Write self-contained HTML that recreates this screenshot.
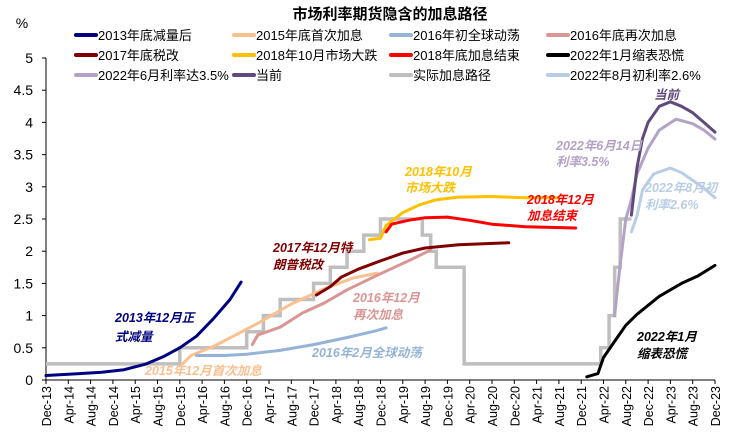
<!DOCTYPE html>
<html><head><meta charset="utf-8">
<style>
html,body{margin:0;padding:0;background:#fff;}
svg{display:block;font-family:"Liberation Sans","Noto Sans CJK SC",sans-serif;}
</style></head>
<body>
<svg id="chart" width="738" height="441" viewBox="0 0 738 441">
<text x="390" y="19" text-anchor="middle" font-size="15" font-weight="bold" fill="#000">市场利率期货隐含的加息路径</text>
<text x="22" y="28" text-anchor="middle" font-size="14" fill="#000">%</text>
<g id="legend"></g>
<g id="axes"></g>
<g id="series"></g>
<g id="notes"></g>
</svg>
<script>
// x values are months since Dec-13
const xLabels=["Dec-13","Apr-14","Aug-14","Dec-14","Apr-15","Aug-15","Dec-15","Apr-16","Aug-16","Dec-16","Apr-17","Aug-17","Dec-17","Apr-18","Aug-18","Dec-18","Apr-19","Aug-19","Dec-19","Apr-20","Aug-20","Dec-20","Apr-21","Aug-21","Dec-21","Apr-22","Aug-22","Dec-22","Apr-23","Aug-23","Dec-23"];
const yTicks=[0,0.5,1,1.5,2,2.5,3,3.5,4,4.5,5];
const yTickLabels=["0","0.5","1","1.5","2","2.5","3","3.5","4","4.5","5"];
const actualMonths=[0,24,36,39,42,48,51,54,57,60,67.5,69,70,75,99.5,101,102,103,105];
const actualValues=[0.25,0.5,0.75,1,1.25,1.5,1.75,2,2.25,2.5,2.25,2,1.75,0.25,0.5,1,1.75,2.5,2.5];
const s2013M=[0,6,10,14,18,21,24,27,30,33,35];
const s2013V=[0.07,0.1,0.12,0.16,0.25,0.36,0.5,0.68,0.95,1.25,1.52];
const s2015M=[24.5,26,30,34,38,44,50,55,59.4];
const s2015V=[0.25,0.38,0.52,0.7,0.88,1.18,1.42,1.58,1.66];
const s2016aM=[27,32,36,42,48,54,59,61];
const s2016aV=[0.38,0.38,0.4,0.46,0.55,0.66,0.76,0.81];
const s2016bM=[37,38,42,46,50,54,60,65,69];
const s2016bV=[0.55,0.7,0.82,1.04,1.2,1.4,1.65,1.85,2.02];
const s2017M=[48.5,51,53,56,60,64,68,74,83];
const s2017V=[1.32,1.45,1.6,1.72,1.85,1.97,2.05,2.1,2.13];
const s2018aM=[58,60,61,64,67,70,74,80,86,92];
const s2018aV=[2.18,2.2,2.4,2.6,2.72,2.8,2.84,2.85,2.83,2.83];
const s2018bM=[61,62,65,68,72,76,80,86,95];
const s2018bV=[2.3,2.42,2.48,2.52,2.53,2.48,2.42,2.38,2.36];
const s2022aM=[97,99,100,102,104,106,110,114,117,120];
const s2022aV=[0.05,0.1,0.35,0.6,0.85,1.02,1.3,1.5,1.62,1.78];
const s2022bM=[102,103,104,105,106,108,110,113,116,118,120];
const s2022bV=[1.0,1.8,2.5,2.8,3.2,3.6,3.88,4.05,3.98,3.88,3.74];
const sCurM=[105,106,107,108,110,112,114,116,118,120];
const sCurV=[2.56,3.3,3.75,4.0,4.25,4.32,4.25,4.15,4.0,3.85];
const s2022cM=[105,106,107,109,112,114,116,118,120];
const s2022cV=[2.3,2.55,2.95,3.2,3.29,3.22,3.1,2.98,2.83];

const NS="http://www.w3.org/2000/svg";
const X0=46,X1=715,Y0=380,Y5=58;
const xs=m=>X0+m*(X1-X0)/120;
const ys=v=>Y0-v*(Y0-Y5)/5;
function mk(tag,attrs,parent){const e=document.createElementNS(NS,tag);for(const k in attrs)e.setAttribute(k,attrs[k]);parent.appendChild(e);return e;}
const axes=document.getElementById('axes');
let l=mk('line',{x1:X0,y1:Y5,x2:X0,y2:Y0,stroke:'#000','stroke-width':1},axes);


l=mk('line',{x1:X0,y1:Y0,x2:X1,y2:Y0,stroke:'#000','stroke-width':1},axes);


yTicks.forEach((v,i)=>{
  mk('line',{x1:X0-4,y1:ys(v),x2:X0,y2:ys(v),stroke:'#000'},axes);
  const t=mk('text',{x:33,y:ys(v)+5,'text-anchor':'end','font-size':14,fill:'#000'},axes);
  t.textContent=yTickLabels[i];
  
  
});
xLabels.forEach((s,i)=>{
  const x=xs(i*4);
  mk('line',{x1:x,y1:Y0,x2:x,y2:Y0+4,stroke:'#000'},axes);
  const t=mk('text',{x:0,y:0,'text-anchor':'end','font-size':12.5,fill:'#000',transform:`translate(${x+5},${Y0+6}) rotate(-90)`},axes);
  t.textContent=s;
  
  
});
const seriesG=document.getElementById('series');
function line(M,V,color,name,w){
  const d=M.map((m,i)=>(i?'L':'M')+xs(m).toFixed(1)+','+ys(V[i]).toFixed(1)).join(' ');
  const p=mk('path',{d:d,fill:'none',stroke:color,'stroke-width':w||3,'stroke-linejoin':'round','stroke-linecap':'round'},seriesG);
  
  
}
// actual step path
{
  let d='';
  actualMonths.forEach((m,i)=>{
    if(i===0)d+='M'+xs(m)+','+ys(actualValues[i]);
    else d+=' L'+xs(m)+','+ys(actualValues[i-1])+' L'+xs(m)+','+ys(actualValues[i]);
  });
  const p=mk('path',{d:d,fill:'none',stroke:'#bfbfbf','stroke-width':3.5},seriesG);
  
  
}
line(s2013M,s2013V,'#000080','series-2013-taper');
line(s2015M,s2015V,'#fac090','series-2015-first-hike');
line(s2016aM,s2016aV,'#95b3d7','series-2016-turmoil');
line(s2016bM,s2016bV,'#d99694','series-2016-second-hike');
line(s2017M,s2017V,'#7f0000','series-2017-tax-reform');
line(s2018aM,s2018aV,'#ffc000','series-2018-oct-selloff');
line(s2018bM,s2018bV,'#ff0000','series-2018-end-hikes');
line(s2022aM,s2022aV,'#000000','series-2022-jan-qt');
line(s2022bM,s2022bV,'#b3a2c7','series-2022-jun');
line(s2022cM,s2022cV,'#b9cde5','series-2022-aug');
line(sCurM,sCurV,'#604a7b','series-current');

// legend
const legendItems=[["2013年底减量后","#000080"],["2015年底首次加息","#fac090"],["2016年初全球动荡","#95b3d7"],["2016年底再次加息","#d99694"],
["2017年底税改","#7f0000"],["2018年10月市场大跌","#ffc000"],["2018年底加息结束","#ff0000"],["2022年1月缩表恐慌","#000000"],
["2022年6月利率达3.5%","#b3a2c7"],["当前","#604a7b"],["实际加息路径","#bfbfbf"],["2022年8月初利率2.6%","#b9cde5"]];
const lg=document.getElementById('legend');
legendItems.forEach((it,i)=>{
  const c=i%4,r=Math.floor(i/4);
  const x=[76,234,391,548][c],y=35+r*20;
  const g=mk('g',{},lg);
  
  
  mk('line',{x1:x,y1:y,x2:x+20,y2:y,stroke:it[1],'stroke-width':4,'stroke-linecap':'round'},g);
  const t=mk('text',{x:x+22,y:y+5,'font-size':13,fill:'#000'},g);
  t.textContent=it[0];
});
// annotations
const notes=[
 [115,322,"2013年12月正","#000080"],[115,341,"式减量","#000080"],
 [145,375,"2015年12月首次加息","#fac090"],
 [312,357,"2016年2月全球动荡","#95b3d7"],
 [353,302,"2016年12月","#d99694"],[353,319,"再次加息","#d99694"],
 [273,252,"2017年12月特","#7f0000"],[273,269,"朗普税改","#7f0000"],
 [405,176,"2018年10月","#ffc000"],[405,192,"市场大跌","#ffc000"],
 [527,204,"2018年12月","#ff0000"],[527,220,"加息结束","#ff0000"],
 [556,150,"2022年6月14日","#b3a2c7"],[556,166,"利率3.5%","#b3a2c7"],
 [645,192,"2022年8月初","#b9cde5"],[645,209,"利率2.6%","#b9cde5"],
 [654,99,"当前","#604a7b"],
 [637,341,"2022年1月","#000"],[637,358,"缩表恐慌","#000"]];
const ng=document.getElementById('notes');
notes.forEach(n=>{
  const t=mk('text',{x:n[0],y:n[1],'font-size':12.5,'font-style':'italic','font-weight':'bold',fill:n[3]},ng);
  t.textContent=n[2];
  
  
});
</script>
</body></html>
